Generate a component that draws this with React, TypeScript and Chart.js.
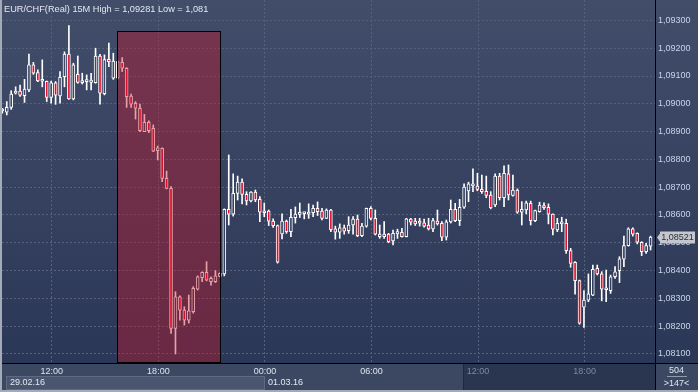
import { useEffect, useRef } from 'react';
import { Chart, registerables } from 'chart.js';

Chart.register(...registerables);

const title = 'EUR/CHF(Real) 15M High = 1,09281 Low = 1,081';

const opens = [
  1.08974, 1.0897, 1.08987, 1.09038, 1.09046, 1.09029, 1.0905, 1.0914, 1.09112, 1.09081,
  1.09081, 1.09023, 1.09075, 1.09028, 1.09098, 1.09179, 1.09018, 1.09106, 1.09076, 1.0908,
  1.09077, 1.09076, 1.09172, 1.09036, 1.0916, 1.09092, 1.09093, 1.09149, 1.09128, 1.09028,
  1.09002, 1.08984, 1.089, 1.08933, 1.08912, 1.08831, 1.0884, 1.08732, 1.08696, 1.08192,
  1.08306, 1.08258, 1.08222, 1.08252, 1.08333, 1.08375, 1.08394, 1.0836, 1.0836, 1.08379,
  1.08388, 1.0862, 1.08603, 1.08678, 1.08718, 1.08674, 1.08651, 1.08682, 1.08656, 1.08608,
  1.08614, 1.08578, 1.08562, 1.08532, 1.08578, 1.0854, 1.0859, 1.08602, 1.08605, 1.08603,
  1.08608, 1.08624, 1.08614, 1.08588, 1.08618, 1.0855, 1.08538, 1.08554, 1.08544, 1.08564,
  1.08585, 1.08526, 1.0856, 1.08624, 1.08588, 1.08522, 1.08531, 1.08531, 1.08507, 1.08532,
  1.08538, 1.08522, 1.08585, 1.08578, 1.08573, 1.08572, 1.08564, 1.0855, 1.08578, 1.0857,
  1.0852, 1.08575, 1.0862, 1.0858, 1.08628, 1.08687, 1.08705, 1.08704, 1.08692, 1.08685,
  1.08672, 1.08636, 1.0874, 1.08662, 1.08748, 1.0867, 1.0869, 1.0861, 1.08618, 1.08642,
  1.0858, 1.08612, 1.08634, 1.08628, 1.08603, 1.08546, 1.08568, 1.0857, 1.08472, 1.0843,
  1.08364, 1.08268, 1.08294, 1.08312, 1.08408, 1.08388, 1.08331, 1.08328, 1.08378, 1.084,
  1.08441, 1.0849, 1.0855, 1.08534, 1.08502, 1.08468, 1.08488,
];

const highs = [
  1.08984, 1.09008, 1.09047, 1.09061, 1.09067, 1.09088, 1.09179, 1.09149, 1.09122, 1.09158,
  1.09082, 1.09082, 1.0908, 1.09116, 1.09187, 1.09281, 1.09146, 1.09172, 1.0911, 1.09104,
  1.0911, 1.092, 1.09178, 1.09176, 1.09218, 1.09182, 1.09154, 1.09166, 1.0913, 1.09035,
  1.09008, 1.08999, 1.08962, 1.08939, 1.08924, 1.08848, 1.08842, 1.08758, 1.08702, 1.08324,
  1.08309, 1.0827, 1.08312, 1.08342, 1.08381, 1.08396, 1.08432, 1.08378, 1.084, 1.08392,
  1.08622, 1.08816, 1.08748, 1.0874, 1.0873, 1.08684, 1.08684, 1.0869, 1.08666, 1.08643,
  1.08618, 1.08586, 1.08564, 1.08604, 1.08582, 1.0862, 1.08629, 1.08643, 1.08608, 1.0864,
  1.08636, 1.08647, 1.08624, 1.08622, 1.0862, 1.0856, 1.08568, 1.08564, 1.08594, 1.08594,
  1.086, 1.0857, 1.08625, 1.0863, 1.08618, 1.08564, 1.08576, 1.08534, 1.08546, 1.08549,
  1.08552, 1.08588, 1.08588, 1.08588, 1.08588, 1.08585, 1.08588, 1.08588, 1.08618, 1.08576,
  1.08582, 1.08654, 1.08642, 1.08656, 1.08712, 1.08718, 1.08766, 1.0875, 1.08744, 1.0874,
  1.08684, 1.08748, 1.0875, 1.08777, 1.0878, 1.08744, 1.08694, 1.08648, 1.0865, 1.0865,
  1.08618, 1.08646, 1.08644, 1.0864, 1.08604, 1.08588, 1.08592, 1.08585, 1.0848, 1.08432,
  1.08366, 1.08328, 1.08388, 1.0842, 1.0842, 1.08396, 1.08402, 1.08384, 1.08414, 1.0845,
  1.08524, 1.08554, 1.08554, 1.08536, 1.08504, 1.08498, 1.08524,
];

const lows = [
  1.08966, 1.0896, 1.0898, 1.09035, 1.09027, 1.09005, 1.09044, 1.09106, 1.0908, 1.09061,
  1.09008, 1.09002, 1.08998, 1.09002, 1.09061, 1.09016, 1.09014, 1.09074, 1.09071, 1.0905,
  1.0905, 1.09074, 1.08999, 1.09032, 1.09134, 1.09088, 1.09089, 1.09116, 1.08987, 1.08987,
  1.08945, 1.089, 1.089, 1.08896, 1.08828, 1.08798, 1.0872, 1.08694, 1.08174, 1.081,
  1.08222, 1.08204, 1.08211, 1.08247, 1.0833, 1.0836, 1.08363, 1.08348, 1.08357, 1.08377,
  1.08381, 1.08564, 1.08596, 1.08654, 1.0864, 1.08636, 1.08647, 1.08648, 1.08576, 1.08594,
  1.08562, 1.08555, 1.08427, 1.08514, 1.08534, 1.08522, 1.08571, 1.08591, 1.08586, 1.08588,
  1.08594, 1.08598, 1.08582, 1.08587, 1.0854, 1.08513, 1.08516, 1.08531, 1.08534, 1.08531,
  1.08522, 1.08522, 1.08556, 1.08582, 1.08528, 1.08516, 1.08516, 1.085, 1.08492, 1.08516,
  1.0852, 1.08521, 1.08564, 1.08562, 1.0856, 1.08556, 1.08546, 1.0854, 1.08564, 1.08508,
  1.0851, 1.08571, 1.08576, 1.08562, 1.08624, 1.08648, 1.08684, 1.08687, 1.08678, 1.08662,
  1.08622, 1.0863, 1.08654, 1.0863, 1.08654, 1.08668, 1.08606, 1.08564, 1.08604, 1.08564,
  1.08576, 1.0861, 1.0862, 1.08568, 1.08528, 1.0854, 1.0854, 1.08462, 1.08412, 1.08315,
  1.08207, 1.08196, 1.08288, 1.0831, 1.08384, 1.08291, 1.08288, 1.08318, 1.08372, 1.08357,
  1.08414, 1.08488, 1.08524, 1.08496, 1.08454, 1.08462, 1.08474,
];

const closes = [
  1.08978, 1.08987, 1.09035, 1.09046, 1.09031, 1.09053, 1.0914, 1.0911, 1.09082, 1.09083,
  1.09023, 1.09075, 1.09031, 1.09095, 1.09179, 1.09018, 1.0914, 1.09077, 1.0908, 1.09081,
  1.09085, 1.09172, 1.09038, 1.09159, 1.09152, 1.09154, 1.09152, 1.09128, 1.09026, 1.08999,
  1.08984, 1.08903, 1.08933, 1.08903, 1.0883, 1.08842, 1.08732, 1.08696, 1.08192, 1.08306,
  1.08258, 1.08222, 1.08255, 1.08336, 1.08378, 1.08394, 1.08366, 1.08372, 1.08381, 1.0839,
  1.0862, 1.08603, 1.08678, 1.08718, 1.08674, 1.08651, 1.08682, 1.08654, 1.0861, 1.08612,
  1.08578, 1.08562, 1.0843, 1.08578, 1.0854, 1.08592, 1.08603, 1.08604, 1.08607, 1.08608,
  1.08624, 1.08612, 1.08588, 1.08618, 1.08547, 1.08538, 1.08554, 1.08542, 1.08564, 1.08585,
  1.08526, 1.0856, 1.08624, 1.08588, 1.08531, 1.08531, 1.08522, 1.08504, 1.08534, 1.0854,
  1.08522, 1.08586, 1.08574, 1.08568, 1.08571, 1.0856, 1.0855, 1.0858, 1.08568, 1.0852,
  1.08575, 1.0862, 1.0858, 1.08628, 1.087, 1.08712, 1.08712, 1.08692, 1.08684, 1.0867,
  1.08626, 1.0874, 1.08662, 1.0875, 1.08672, 1.0869, 1.0861, 1.0862, 1.08644, 1.0858,
  1.08616, 1.08636, 1.08626, 1.08603, 1.08549, 1.0857, 1.0857, 1.08472, 1.08426, 1.08364,
  1.08211, 1.08294, 1.08316, 1.08405, 1.08388, 1.08333, 1.08333, 1.08378, 1.08396, 1.08442,
  1.0849, 1.0855, 1.08531, 1.08502, 1.08468, 1.0849, 1.08521,
];

const timeTickIndex = [11, 35, 59, 83, 107, 131];
const timeTickLabels = ['12:00', '18:00', '00:00', '06:00', '12:00', '18:00'];
const dateLabels = ['29.02.16', '01.03.16'];
const priceTicks = [1.081, 1.082, 1.083, 1.084, 1.085, 1.086, 1.087, 1.088, 1.089, 1.09, 1.091, 1.092, 1.093];
const lastPrice = 1.08521;
const barCountText = '504';
const visibleCountText = '>147<';
const highlightRange = [25.9, 49.0];
const highlightPrices = [1.0807, 1.09262];
const dimFromIndex = 103.8;

const FONT = '"Liberation Sans", Arial, sans-serif';
const TICK_SHIFT = 0.15;

export default function App() {
  const ref = useRef<HTMLCanvasElement>(null);

  useEffect(() => {
    document.body.style.margin = '0';
    const canvas = ref.current!;
    const c2d = canvas.getContext('2d')!;
    const grad = c2d.createLinearGradient(0, 0, 0, 363);
    grad.addColorStop(0, '#414d69');
    grad.addColorStop(1, '#2b3756');

    const idx = opens.map((_, i) => i);

    const frame = {
      id: 'frame',
      beforeDraw(chart: any) {
        const { ctx, chartArea } = chart;
        const x = chart.scales.x;
        const W = chart.width;
        const H = chart.height;
        const b = chartArea.bottom;
        const r = chartArea.right;
        ctx.save();
        ctx.fillStyle = grad;
        ctx.fillRect(0, 0, W, b);
        ctx.fillStyle = '#3c4862';
        ctx.fillRect(0, b, W, H - b);
        const mid = x.getPixelForValue(timeTickIndex[2] + TICK_SHIFT);
        ctx.fillStyle = '#4a566f';
        ctx.fillRect(6, b + 13, mid - 6, 14);
        ctx.strokeStyle = '#5e6a82';
        ctx.lineWidth = 1;
        ctx.strokeRect(6.5, b + 13.5, Math.round(mid) - 7, 13);
        const fx = Math.round(x.getPixelForValue(dimFromIndex));
        ctx.fillStyle = '#2a3550';
        ctx.fillRect(fx, b + 1, r - fx, H - b - 3);
        ctx.fillStyle = '#1f2838';
        ctx.fillRect(fx, b + 1, 1, H - b - 3);
        ctx.restore();
      },
      afterDatasetsDraw(chart: any) {
        const { ctx } = chart;
        const x = chart.scales.x;
        const y = chart.scales.y;
        const x1 = x.getPixelForValue(highlightRange[0]);
        const x2 = x.getPixelForValue(highlightRange[1]);
        const y1 = y.getPixelForValue(highlightPrices[1]);
        const y2 = y.getPixelForValue(highlightPrices[0]);
        ctx.save();
        ctx.fillStyle = 'rgba(200,20,40,0.4)';
        ctx.fillRect(x1, y1, x2 - x1, y2 - y1);
        ctx.strokeStyle = '#000';
        ctx.lineWidth = 1;
        ctx.strokeRect(Math.round(x1) + 0.5, Math.round(y1) + 0.5, Math.round(x2 - x1), Math.round(y2 - y1));
        ctx.restore();
      },
      afterDraw(chart: any) {
        const { ctx, chartArea } = chart;
        const x = chart.scales.x;
        const y = chart.scales.y;
        const W = chart.width;
        const H = chart.height;
        const b = chartArea.bottom;
        const r = chartArea.right;
        ctx.save();
        ctx.fillStyle = '#000';
        ctx.fillRect(2, b, W - 2, 1);
        ctx.fillRect(r, 0, 1, H);
        ctx.fillStyle = '#a3abb8';
        ctx.fillRect(0, 0, 2, H);
        ctx.fillRect(0, H - 2, W, 2);
        ctx.font = `9.2px ${FONT}`;
        ctx.textBaseline = 'middle';
        ctx.textAlign = 'left';
        ctx.fillStyle = '#e3e8f0';
        ctx.fillText(title, 4, 9);
        ctx.font = `9px ${FONT}`;
        ctx.fillStyle = '#e3e8f0';
        ctx.fillText(dateLabels[0], 10, b + 20);
        const mid = x.getPixelForValue(timeTickIndex[2] + TICK_SHIFT);
        ctx.fillText(dateLabels[1], mid + 3, b + 20);
        const py = Math.round(y.getPixelForValue(lastPrice)) + 0.5;
        ctx.fillStyle = '#c4c8ce';
        ctx.beginPath();
        ctx.moveTo(r + 2, py);
        ctx.lineTo(r + 5, py - 4);
        ctx.lineTo(r + 5, py - 6);
        ctx.lineTo(r + 40, py - 6);
        ctx.lineTo(r + 40, py + 6);
        ctx.lineTo(r + 5, py + 6);
        ctx.lineTo(r + 5, py + 4);
        ctx.closePath();
        ctx.fill();
        ctx.fillStyle = '#2a2e36';
        ctx.textAlign = 'center';
        ctx.fillText(lastPrice.toFixed(5).replace('.', ','), r + 22.5, py);
        const cx = (r + W) / 2;
        ctx.fillStyle = '#dfe6f1';
        ctx.fillText(barCountText, cx, b + 8);
        ctx.fillStyle = '#8e9ab0';
        ctx.fillRect(Math.round(cx) - 10, b + 13, 20, 1);
        ctx.fillStyle = '#dfe6f1';
        ctx.fillText(visibleCountText, cx, b + 20.5);
        ctx.restore();
      },
    };

    const chart = new Chart(canvas, {
      type: 'bar',
      data: {
        datasets: [
          {
            label: 'body',
            data: idx.map((i) => ({ x: i, y: [opens[i], closes[i]] })) as any,
            backgroundColor: (c: any) =>
              closes[c.dataIndex] >= opens[c.dataIndex] ? grad : '#e2102e',
            borderColor: '#ffffff',
            borderWidth: 1,
            borderSkipped: false,
            barThickness: 3,
            minBarLength: 2,
            grouped: false,
            order: 0,
          } as any,
          {
            label: 'wick',
            data: idx.map((i) => ({ x: i, y: [lows[i], highs[i]] })) as any,
            backgroundColor: '#ffffff',
            borderWidth: 0,
            barThickness: 1,
            grouped: false,
            order: 1,
          } as any,
        ],
      },
      options: {
        responsive: false,
        animation: false,
        events: [],
        layout: { padding: { left: 2, top: 0, right: 0, bottom: 0 } },
        plugins: {
          legend: { display: false },
          tooltip: { enabled: false },
          title: { display: false },
        },
        scales: {
          x: {
            type: 'linear',
            position: 'bottom',
            min: -0.07,
            max: 147.0,
            offset: false,
            afterBuildTicks: (s: any) => {
              s.ticks = timeTickIndex.map((v) => ({ value: v + TICK_SHIFT }));
            },
            afterFit: (s: any) => {
              s.height = 29;
              s.paddingLeft = 0;
              s.paddingRight = 0;
            },
            ticks: {
              autoSkip: false,
              maxRotation: 0,
              padding: 3,
              font: { family: FONT, size: 9 },
              color: (c: any) => (c.index >= 4 ? '#7d889e' : '#dde5f2'),
              callback: (_v: any, i: number) => timeTickLabels[i],
            },
            grid: { color: '#56627c', drawTicks: false, offset: false, lineWidth: 1 },
            border: { display: false, dash: [2, 2] },
          },
          y: {
            type: 'linear',
            position: 'right',
            min: 1.080676,
            max: 1.093734,
            beginAtZero: false,
            afterBuildTicks: (s: any) => {
              s.ticks = priceTicks.map((v) => ({ value: v }));
            },
            afterFit: (s: any) => {
              s.width = 43;
              s.paddingTop = 0;
              s.paddingBottom = 0;
            },
            ticks: {
              padding: 3,
              font: { family: FONT, size: 9 },
              color: '#c8d5ec',
              callback: (v: any) => Number(v).toFixed(5).replace('.', ','),
            },
            grid: { color: '#56627c', drawTicks: false, lineWidth: 1 },
            border: { display: false, dash: [2, 2] },
          },
        },
      } as any,
      plugins: [frame],
    });

    return () => chart.destroy();
  }, []);

  return (
    <div style={{ position: 'absolute', left: 0, top: 0, width: 698, height: 392 }}>
      <canvas ref={ref} width={698} height={392} style={{ display: 'block', width: 698, height: 392 }} />
    </div>
  );
}
